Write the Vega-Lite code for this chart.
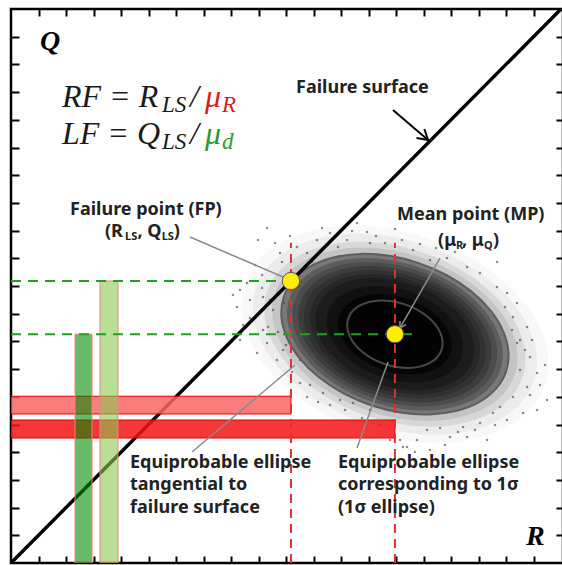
{
  "$schema": "https://vega.github.io/schema/vega-lite/v6.json",
  "width": 552,
  "height": 554,
  "autosize": {"type": "none"},
  "padding": {"left": 11, "top": 9, "right": -1, "bottom": 2},
  "background": "white",
  "config": {"view": {"stroke": "#000000", "strokeWidth": 2.5}},
  "resolve": {
    "axis": {"x": "independent", "y": "independent"},
    "scale": {"color": "independent", "size": "independent"}
  },
  "layer": [
    {
      "data": {"values": [
        {"k": 1.35, "r": 6.98, "q": 4.13}, {"k": 1.25, "r": 6.98, "q": 4.13}, {"k": 1.15, "r": 6.98, "q": 4.13},
        {"k": 1.08, "r": 6.98, "q": 4.13}, {"k": 1.0, "r": 6.98, "q": 4.13}, {"k": 0.95, "r": 6.98, "q": 4.13},
        {"k": 0.9, "r": 6.98, "q": 4.13}, {"k": 0.85, "r": 6.98, "q": 4.13}, {"k": 0.8, "r": 6.98, "q": 4.13},
        {"k": 0.75, "r": 6.98, "q": 4.13}, {"k": 0.7, "r": 6.98, "q": 4.13}, {"k": 0.6, "r": 6.98, "q": 4.13},
        {"k": 0.5, "r": 6.98, "q": 4.13}, {"k": 0.4, "r": 6.98, "q": 4.13}, {"k": 0.3, "r": 6.98, "q": 4.13},
        {"k": 0.2, "r": 6.98, "q": 4.13}
      ]},
      "mark": {
        "type": "point", "filled": true, "opacity": 1, "strokeWidth": 0, "angle": 18.6,
        "shape": "M 1 0 C 1 0.3535 0.5523 0.64 0 0.64 C -0.5523 0.64 -1 0.3535 -1 0 C -1 -0.3535 -0.5523 -0.64 0 -0.64 C 0.5523 -0.64 1 -0.3535 1 0 Z"
      },
      "encoding": {
        "x": {"field": "r", "type": "quantitative", "scale": {"domain": [0, 10.036], "nice": false},
          "axis": {"orient": "bottom", "values": [0.5,1,1.5,2,2.5,3,3.5,4,4.5,5,5.5,6,6.5,7,7.5,8,8.5,9,9.5], "tickSize": -7, "tickWidth": 2, "tickColor": "#000", "domain": false, "labels": false, "title": null, "grid": false}},
        "y": {"field": "q", "type": "quantitative", "scale": {"domain": [0, 10], "nice": false},
          "axis": {"orient": "left", "values": [0.5,1,1.5,2,2.5,3,3.5,4,4.5,5,5.5,6,6.5,7,7.5,8,8.5,9,9.5], "tickSize": -8, "tickWidth": 2, "tickColor": "#000", "domain": false, "labels": false, "title": null, "grid": false}},
        "size": {"field": "k", "type": "quantitative", "scale": {"type": "pow", "exponent": 2, "domain": [0, 1], "range": [0, 54937]}, "legend": null},
        "color": {"field": "k", "type": "quantitative", "scale": {"domain": [0.2, 0.5, 0.7, 0.85, 0.95, 1.0, 1.08, 1.2, 1.35], "range": ["#000000", "#050505", "#1c1c1c", "#3c3c3c", "#5c5c5c", "#787878", "#c4c4c4", "#e6e6e6", "#f8f8f8"], "interpolate": "rgb"}, "legend": null},
        "order": {"field": "k", "sort": "descending"}
      }
    },
    {
      "data": {"values": [
        {"r": 4.655, "q": 6.047}, {"r": 4.8, "q": 5.776}, {"r": 4.436, "q": 5.379}, {"r": 4.291, "q": 5.054},
        {"r": 4.564, "q": 5.199}, {"r": 4.345, "q": 4.747}, {"r": 4.109, "q": 4.621}, {"r": 4.582, "q": 4.801},
        {"r": 4.764, "q": 4.567}, {"r": 4.473, "q": 4.477}, {"r": 4.218, "q": 4.296}, {"r": 4.673, "q": 4.26},
        {"r": 4.855, "q": 4.17}, {"r": 5.564, "q": 5.83}, {"r": 5.8, "q": 5.957}, {"r": 6.109, "q": 5.83},
        {"r": 6.473, "q": 5.975}, {"r": 6.291, "q": 6.137}, {"r": 6.527, "q": 5.776}, {"r": 5.382, "q": 5.596},
        {"r": 5.2, "q": 5.704}, {"r": 4.891, "q": 5.596}, {"r": 6.8, "q": 5.776}, {"r": 7.309, "q": 5.65},
        {"r": 7.618, "q": 5.469}, {"r": 7.927, "q": 5.505}, {"r": 8.291, "q": 5.343}, {"r": 8.527, "q": 5.235},
        {"r": 8.836, "q": 4.982}, {"r": 9.018, "q": 4.874}, {"r": 9.2, "q": 4.693}, {"r": 9.127, "q": 4.44},
        {"r": 9.382, "q": 4.26}, {"r": 9.255, "q": 4.025}, {"r": 8.836, "q": 5.433}, {"r": 9.2, "q": 3.971},
        {"r": 9.436, "q": 3.718}, {"r": 9.255, "q": 3.484}, {"r": 9.564, "q": 3.43}, {"r": 9.382, "q": 3.177},
        {"r": 9.745, "q": 2.942}, {"r": 9.127, "q": 2.996}, {"r": 9.564, "q": 2.762}, {"r": 9.309, "q": 2.708},
        {"r": 8.891, "q": 2.816}, {"r": 8.764, "q": 2.708}, {"r": 9.018, "q": 2.581}, {"r": 8.527, "q": 2.527},
        {"r": 8.218, "q": 2.455}, {"r": 7.8, "q": 2.437}, {"r": 7.564, "q": 2.401}, {"r": 8.655, "q": 2.22},
        {"r": 8.291, "q": 2.274}, {"r": 7.982, "q": 2.274}, {"r": 7.382, "q": 2.22}, {"r": 7.127, "q": 2.094},
        {"r": 7.618, "q": 2.04}, {"r": 4.582, "q": 4.206}, {"r": 4.655, "q": 3.971}, {"r": 4.473, "q": 3.791},
        {"r": 4.836, "q": 3.664}, {"r": 4.945, "q": 3.845}, {"r": 5.382, "q": 2.996}, {"r": 5.255, "q": 3.249},
        {"r": 5.673, "q": 3.069}, {"r": 5.982, "q": 2.942}, {"r": 6.218, "q": 2.888}, {"r": 6.527, "q": 2.762},
        {"r": 7.2, "q": 2.094}, {"r": 7.073, "q": 2.22},
        {"r": 5.073, "q": 5.903}, {"r": 5.655, "q": 6.047}, {"r": 5.945, "q": 5.704}, {"r": 6.2, "q": 5.993},
        {"r": 6.636, "q": 5.903}, {"r": 6.982, "q": 6.029}, {"r": 7.109, "q": 5.83}, {"r": 7.436, "q": 5.758},
        {"r": 7.727, "q": 5.686}, {"r": 8.073, "q": 5.614}, {"r": 4.345, "q": 4.422}, {"r": 4.164, "q": 4.928},
        {"r": 4.564, "q": 4.964}, {"r": 4.709, "q": 4.747}, {"r": 4.964, "q": 4.693}, {"r": 9.345, "q": 3.845},
        {"r": 9.618, "q": 3.213}, {"r": 9.436, "q": 3.032}, {"r": 9.709, "q": 3.574}, {"r": 9.109, "q": 4.206},
        {"r": 8.982, "q": 4.621}, {"r": 9.473, "q": 4.025}, {"r": 7.891, "q": 2.13}, {"r": 8.127, "q": 2.365},
        {"r": 8.436, "q": 2.401}, {"r": 8.8, "q": 2.491}, {"r": 7.345, "q": 2.004}, {"r": 6.891, "q": 2.22},
        {"r": 6.709, "q": 2.491}, {"r": 6.382, "q": 2.617}, {"r": 6.073, "q": 2.762}, {"r": 5.8, "q": 2.852},
        {"r": 5.582, "q": 2.906}, {"r": 5.436, "q": 3.213}, {"r": 5.109, "q": 3.448}, {"r": 5.255, "q": 3.664},
        {"r": 5.0, "q": 3.935}, {"r": 4.036, "q": 4.838}, {"r": 4.491, "q": 5.83}, {"r": 4.927, "q": 5.433},
        {"r": 5.473, "q": 5.433}, {"r": 4.164, "q": 4.025}
      ]},
      "mark": {"type": "square", "size": 5, "color": "#444444", "opacity": 0.6},
      "encoding": {
        "x": {"field": "r", "type": "quantitative", "scale": {"domain": [0, 10.036], "nice": false}, "axis": null},
        "y": {"field": "q", "type": "quantitative", "scale": {"domain": [0, 10], "nice": false}, "axis": null}
      }
    },
    {
      "data": {"values": [
        {"i": 0, "r": 9.0, "q": 3.455}, {"i": 1, "r": 8.818, "q": 3.146},
        {"i": 2, "r": 8.511, "q": 2.903}, {"i": 3, "r": 8.1, "q": 2.746},
        {"i": 4, "r": 7.613, "q": 2.681}, {"i": 5, "r": 7.083, "q": 2.716},
        {"i": 6, "r": 6.545, "q": 2.847}, {"i": 7, "r": 6.037, "q": 3.066},
        {"i": 8, "r": 5.593, "q": 3.357}, {"i": 9, "r": 5.244, "q": 3.7},
        {"i": 10, "r": 5.013, "q": 4.073}, {"i": 11, "r": 4.916, "q": 4.45},
        {"i": 12, "r": 4.96, "q": 4.805}, {"i": 13, "r": 5.142, "q": 5.114},
        {"i": 14, "r": 5.449, "q": 5.357}, {"i": 15, "r": 5.86, "q": 5.514},
        {"i": 16, "r": 6.347, "q": 5.579}, {"i": 17, "r": 6.877, "q": 5.544},
        {"i": 18, "r": 7.415, "q": 5.413}, {"i": 19, "r": 7.923, "q": 5.194},
        {"i": 20, "r": 8.367, "q": 4.903}, {"i": 21, "r": 8.716, "q": 4.56},
        {"i": 22, "r": 8.947, "q": 4.187}, {"i": 23, "r": 9.044, "q": 3.81}
      ]},
      "mark": {"type": "line", "interpolate": "cardinal-closed", "strokeWidth": 2, "color": "#5e5e5e"},
      "encoding": {
        "x": {"field": "r", "type": "quantitative", "scale": {"domain": [0, 10.036], "nice": false}, "axis": null},
        "y": {"field": "q", "type": "quantitative", "scale": {"domain": [0, 10], "nice": false}, "axis": null},
        "order": {"field": "i", "type": "quantitative"}
      }
    },
    {
      "data": {"values": [
        {"i": 0, "r": 7.828, "q": 3.846}, {"i": 1, "r": 7.623, "q": 3.615},
        {"i": 2, "r": 7.246, "q": 3.521}, {"i": 3, "r": 6.797, "q": 3.591},
        {"i": 4, "r": 6.397, "q": 3.805}, {"i": 5, "r": 6.154, "q": 4.106},
        {"i": 6, "r": 6.132, "q": 4.414}, {"i": 7, "r": 6.337, "q": 4.645},
        {"i": 8, "r": 6.714, "q": 4.739}, {"i": 9, "r": 7.163, "q": 4.669},
        {"i": 10, "r": 7.563, "q": 4.455}, {"i": 11, "r": 7.806, "q": 4.154}
      ]},
      "mark": {"type": "line", "interpolate": "cardinal-closed", "strokeWidth": 2, "color": "#484848"},
      "encoding": {
        "x": {"field": "r", "type": "quantitative", "scale": {"domain": [0, 10.036], "nice": false}, "axis": null},
        "y": {"field": "q", "type": "quantitative", "scale": {"domain": [0, 10], "nice": false}, "axis": null},
        "order": {"field": "i", "type": "quantitative"}
      }
    },
    {
      "data": {"values": [{"r1": 0, "q1": 0, "r2": 10.02, "q2": 10.02}]},
      "mark": {"type": "rule", "color": "#000000", "strokeWidth": 3.5, "clip": true},
      "encoding": {
        "x": {"field": "r1", "type": "quantitative", "scale": {"domain": [0, 10.036], "nice": false},
          "axis": {"orient": "top", "values": [0.5,1,1.5,2,2.5,3,3.5,4,4.5,5,5.5,6,6.5,7,7.5,8,8.5,9,9.5], "tickSize": -7, "tickWidth": 2, "tickColor": "#000", "domain": false, "labels": false, "title": null, "grid": false}},
        "y": {"field": "q1", "type": "quantitative", "scale": {"domain": [0, 10], "nice": false},
          "axis": {"orient": "right", "values": [0.5,1,1.5,2,2.5,3,3.5,4,4.5,5,5.5,6,6.5,7,7.5,8,8.5,9,9.5], "tickSize": -7, "tickWidth": 2, "tickColor": "#000", "domain": false, "labels": false, "title": null, "grid": false}},
        "x2": {"field": "r2"},
        "y2": {"field": "q2"}
      }
    },
    {
      "data": {"values": [
        {"kind": "light", "r1": 0, "r2": 5.09, "q1": 2.69, "q2": 3.01},
        {"kind": "dark", "r1": 0, "r2": 6.98, "q1": 2.256, "q2": 2.581}
      ]},
      "mark": {"type": "rect", "fillOpacity": 0.85, "stroke": "#e00000", "strokeWidth": 1, "clip": true},
      "encoding": {
        "x": {"field": "r1", "type": "quantitative", "scale": {"domain": [0, 10.036], "nice": false}, "axis": null},
        "x2": {"field": "r2"},
        "y": {"field": "q1", "type": "quantitative", "scale": {"domain": [0, 10], "nice": false}, "axis": null},
        "y2": {"field": "q2"},
        "color": {"field": "kind", "type": "nominal", "scale": {"domain": ["light", "dark"], "range": ["#f96666", "#f31414"]}, "legend": null}
      }
    },
    {
      "data": {"values": [
        {"kind": "dark", "r1": 1.164, "r2": 1.473, "q1": 0, "q2": 4.13},
        {"kind": "light", "r1": 1.618, "r2": 1.945, "q1": 0, "q2": 5.09}
      ]},
      "mark": {"type": "rect", "fillOpacity": 0.6, "stroke": "#f08080", "strokeWidth": 1, "strokeOpacity": 1, "clip": true},
      "encoding": {
        "x": {"field": "r1", "type": "quantitative", "scale": {"domain": [0, 10.036], "nice": false}, "axis": null},
        "x2": {"field": "r2"},
        "y": {"field": "q1", "type": "quantitative", "scale": {"domain": [0, 10], "nice": false}, "axis": null},
        "y2": {"field": "q2"},
        "color": {"field": "kind", "type": "nominal", "scale": {"domain": ["dark", "light"], "range": ["#038a03", "#8ac850"]}, "legend": null}
      }
    },
    {
      "data": {"values": [
        {"r": 5.09, "q1": 0, "q2": 5.78},
        {"r": 6.98, "q1": 0, "q2": 5.78}
      ]},
      "mark": {"type": "rule", "color": "#e03030", "strokeWidth": 2, "strokeDash": [9, 6], "clip": true},
      "encoding": {
        "x": {"field": "r", "type": "quantitative", "scale": {"domain": [0, 10.036], "nice": false}, "axis": null},
        "y": {"field": "q1", "type": "quantitative", "scale": {"domain": [0, 10], "nice": false}, "axis": null},
        "y2": {"field": "q2"}
      }
    },
    {
      "data": {"values": [
        {"q": 5.09, "r1": 0, "r2": 5.0},
        {"q": 4.13, "r1": 0, "r2": 7.31}
      ]},
      "mark": {"type": "rule", "color": "#1fa31f", "strokeWidth": 2, "strokeDash": [10, 7]},
      "encoding": {
        "y": {"field": "q", "type": "quantitative", "scale": {"domain": [0, 10], "nice": false}, "axis": null},
        "x": {"field": "r1", "type": "quantitative", "scale": {"domain": [0, 10.036], "nice": false}, "axis": null},
        "x2": {"field": "r2"}
      }
    },
    {
      "data": {"values": [
        {"r1": 3.255, "q1": 5.884, "r2": 4.945, "q2": 5.162},
        {"r1": 7.8, "q1": 5.505, "r2": 7.073, "q2": 4.242},
        {"r1": 3.291, "q1": 2.004, "r2": 5.164, "q2": 3.574},
        {"r1": 6.291, "q1": 2.076, "r2": 6.855, "q2": 3.628}
      ]},
      "mark": {"type": "rule", "color": "#8a8a8a", "strokeWidth": 1.5},
      "encoding": {
        "x": {"field": "r1", "type": "quantitative", "scale": {"domain": [0, 10.036], "nice": false}, "axis": null},
        "y": {"field": "q1", "type": "quantitative", "scale": {"domain": [0, 10], "nice": false}, "axis": null},
        "x2": {"field": "r2"},
        "y2": {"field": "q2"}
      }
    },
    {
      "data": {"values": [{"r": 7.073, "q": 4.242}]},
      "mark": {"type": "point", "shape": "M -1 -0.6 L 0 0 L -1 0.6", "filled": false, "opacity": 1, "stroke": "#8a8a8a", "strokeWidth": 1.5, "size": 144, "angle": 119.7},
      "encoding": {
        "x": {"field": "r", "type": "quantitative", "scale": {"domain": [0, 10.036], "nice": false}, "axis": null},
        "y": {"field": "q", "type": "quantitative", "scale": {"domain": [0, 10], "nice": false}, "axis": null}
      }
    },
    {
      "data": {"values": [{"r1": 6.945, "q1": 8.177, "r2": 7.582, "q2": 7.635}]},
      "mark": {"type": "rule", "color": "#000000", "strokeWidth": 2},
      "encoding": {
        "x": {"field": "r1", "type": "quantitative", "scale": {"domain": [0, 10.036], "nice": false}, "axis": null},
        "y": {"field": "q1", "type": "quantitative", "scale": {"domain": [0, 10], "nice": false}, "axis": null},
        "x2": {"field": "r2"},
        "y2": {"field": "q2"}
      }
    },
    {
      "data": {"values": [{"r": 7.582, "q": 7.635}]},
      "mark": {"type": "point", "shape": "M -1 -0.6 L 0 0 L -1 0.6", "filled": false, "opacity": 1, "stroke": "#000000", "strokeWidth": 2, "size": 400, "angle": 40.6},
      "encoding": {
        "x": {"field": "r", "type": "quantitative", "scale": {"domain": [0, 10.036], "nice": false}, "axis": null},
        "y": {"field": "q", "type": "quantitative", "scale": {"domain": [0, 10], "nice": false}, "axis": null}
      }
    },
    {
      "data": {"values": [{"name": "FP", "r": 5.09, "q": 5.09}, {"name": "MP", "r": 6.98, "q": 4.13}]},
      "mark": {"type": "point", "shape": "circle", "filled": true, "opacity": 1, "fill": "#ffee00", "stroke": "#555555", "strokeWidth": 1, "size": 300},
      "encoding": {
        "x": {"field": "r", "type": "quantitative", "scale": {"domain": [0, 10.036], "nice": false}, "axis": null},
        "y": {"field": "q", "type": "quantitative", "scale": {"domain": [0, 10], "nice": false}, "axis": null}
      }
    },
    {
      "data": {"values": [
        {"t": "RF = R", "r": 0.927, "q": 8.231, "role": "main", "tone": "ink"},
        {"t": "LS", "r": 2.745, "q": 8.141, "role": "sub", "tone": "ink"},
        {"t": "/", "r": 3.255, "q": 8.231, "role": "main", "tone": "ink"},
        {"t": "μ", "r": 3.527, "q": 8.231, "role": "main", "tone": "red"},
        {"t": "R", "r": 3.836, "q": 8.141, "role": "sub", "tone": "red"},
        {"t": "LF = Q", "r": 0.927, "q": 7.563, "role": "main", "tone": "ink"},
        {"t": "LS", "r": 2.745, "q": 7.473, "role": "sub", "tone": "ink"},
        {"t": "/", "r": 3.255, "q": 7.563, "role": "main", "tone": "ink"},
        {"t": "μ", "r": 3.527, "q": 7.563, "role": "main", "tone": "green"},
        {"t": "d", "r": 3.836, "q": 7.473, "role": "sub", "tone": "green"}
      ]},
      "mark": {"type": "text", "align": "left", "baseline": "alphabetic", "font": "Liberation Serif", "fontStyle": "italic"},
      "encoding": {
        "x": {"field": "r", "type": "quantitative", "scale": {"domain": [0, 10.036], "nice": false}, "axis": null},
        "y": {"field": "q", "type": "quantitative", "scale": {"domain": [0, 10], "nice": false}, "axis": null},
        "text": {"field": "t"},
        "size": {"field": "role", "type": "ordinal", "scale": {"domain": ["main", "sub"], "range": [32, 23]}, "legend": null},
        "color": {"field": "tone", "type": "nominal", "scale": {"domain": ["ink", "red", "green"], "range": ["#1a1a1a", "#d62020", "#2a9a2a"]}, "legend": null}
      }
    },
    {
      "data": {"values": [
        {"t": "Failure surface", "r": 5.182, "q": 8.484, "role": "main"},
        {"t": "Failure point (FP)", "r": 1.073, "q": 6.282, "role": "main"},
        {"t": "(R", "r": 1.709, "q": 5.884, "role": "main"},
        {"t": "LS", "r": 2.073, "q": 5.83, "role": "sub"},
        {"t": ", Q", "r": 2.3, "q": 5.884, "role": "main"},
        {"t": "LS", "r": 2.74, "q": 5.83, "role": "sub"},
        {"t": ")", "r": 2.96, "q": 5.884, "role": "main"},
        {"t": "Mean point (MP)", "r": 7.018, "q": 6.191, "role": "main"},
        {"t": "(μ", "r": 7.764, "q": 5.722, "role": "main"},
        {"t": "R", "r": 8.091, "q": 5.668, "role": "sub"},
        {"t": ", μ", "r": 8.2, "q": 5.722, "role": "main"},
        {"t": "Q", "r": 8.6, "q": 5.668, "role": "sub"},
        {"t": ")", "r": 8.764, "q": 5.722, "role": "main"},
        {"t": "Equiprobable ellipse", "r": 2.164, "q": 1.715, "role": "main"},
        {"t": "tangential to", "r": 2.164, "q": 1.309, "role": "main"},
        {"t": "failure surface", "r": 2.164, "q": 0.903, "role": "main"},
        {"t": "Equiprobable ellipse", "r": 5.945, "q": 1.715, "role": "main"},
        {"t": "corresponding to 1σ", "r": 5.945, "q": 1.309, "role": "main"},
        {"t": "(1σ ellipse)", "r": 5.945, "q": 0.903, "role": "main"}
      ]},
      "mark": {"type": "text", "align": "left", "baseline": "alphabetic", "font": "Noto Sans", "fontWeight": "bold", "color": "#222222"},
      "encoding": {
        "x": {"field": "r", "type": "quantitative", "scale": {"domain": [0, 10.036], "nice": false}, "axis": null},
        "y": {"field": "q", "type": "quantitative", "scale": {"domain": [0, 10], "nice": false}, "axis": null},
        "text": {"field": "t"},
        "size": {"field": "role", "type": "ordinal", "scale": {"domain": ["main", "sub"], "range": [18, 11]}, "legend": null}
      }
    },
    {
      "data": {"values": [
        {"t": "Q", "r": 0.527, "q": 9.26},
        {"t": "R", "r": 9.364, "q": 0.325}
      ]},
      "mark": {"type": "text", "align": "left", "baseline": "alphabetic", "font": "Liberation Serif", "fontStyle": "italic", "fontWeight": "bold", "fontSize": 28, "color": "#000000"},
      "encoding": {
        "x": {"field": "r", "type": "quantitative", "scale": {"domain": [0, 10.036], "nice": false}, "axis": null},
        "y": {"field": "q", "type": "quantitative", "scale": {"domain": [0, 10], "nice": false}, "axis": null},
        "text": {"field": "t"}
      }
    }
  ]
}
